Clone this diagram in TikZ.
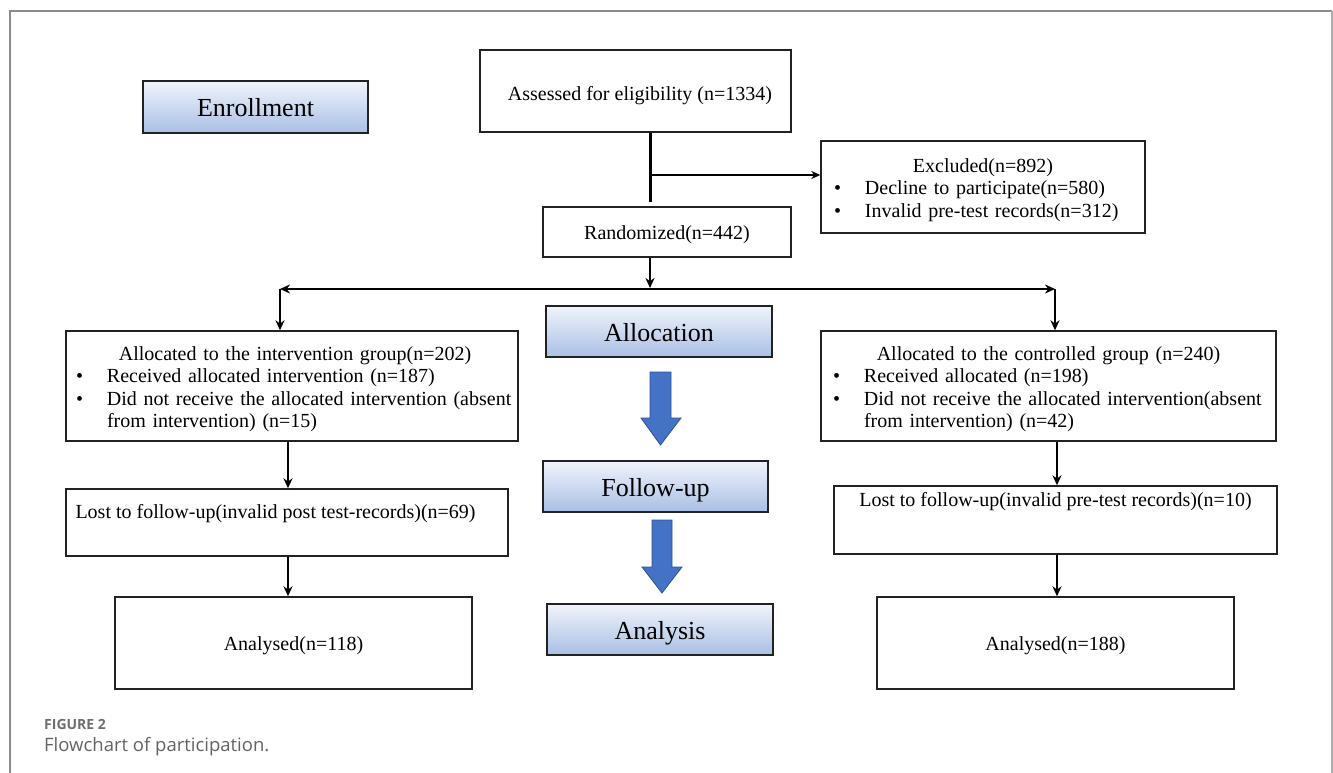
\documentclass[tikz,border=0pt]{standalone}
\usepackage{fontspec}
\setmainfont{Liberation Serif}
\newfontfamily\capfont{Open Sans}
\usetikzlibrary{arrows.meta}
\definecolor{framegray}{HTML}{8C8C8C}
\definecolor{bluetop}{HTML}{F0F4FB}
\definecolor{bluebot}{HTML}{A9BFE4}
\definecolor{arrowblue}{HTML}{4472C4}
\definecolor{arrowedge}{HTML}{2F528F}
\definecolor{boxline}{HTML}{222222}
\definecolor{capgray}{HTML}{6E6E6E}
\newcommand{\bl}[1]{\mbox{\makebox[31pt][l]{\textbullet}#1}}
\newcommand{\cont}[1]{\mbox{\hspace*{31pt}#1}}
\newcommand{\topstrut}{\rule{0pt}{20pt}}
\begin{document}
\begin{tikzpicture}[x=1pt,y=-1pt,
  font=\fontsize{20}{22.5}\selectfont,
  box/.style={draw=boxline, line width=1.4pt, fill=white, inner sep=0pt, align=center},
  oneline/.style={text height=18.5pt, text depth=3pt},
  stage/.style={draw=boxline, line width=1.6pt, top color=bluetop, bottom color=bluebot,
     inner sep=0pt, font=\fontsize{26}{30}\selectfont, text height=20pt, text depth=1pt},
  conn/.style={line width=2pt, draw=black},
  tip/.style={-{Stealth[length=10pt,width=9pt]}},
  bluearrow/.style={fill=arrowblue, draw=arrowedge, line width=0.8pt}
]
\useasboundingbox (0,0) rectangle (1333,773);
% outer frame
\draw[framegray, line width=1.5pt] (10,773) -- (10,11) -- (1332,11);
\draw[framegray!70, line width=1.5pt] (1332,11) -- (1332,773);

% stage labels
\node[stage, minimum width=225pt, minimum height=52pt] (enrol) at (255.5,107) {Enrollment};
\node[stage, minimum width=226pt, minimum height=51pt] (alloc) at (659,331.5) {Allocation};
\node[stage, minimum width=225pt, minimum height=51pt] (follow) at (655.5,486.5) {Follow-up};
\node[stage, minimum width=226pt, minimum height=51pt] (analysis) at (660,629.5) {Analysis};

% blue block arrows
\draw[bluearrow] (650,372) -- (671,372) -- (671,418) -- (681,418) -- (660.5,445) -- (641,418) -- (650,418) -- cycle;
\draw[bluearrow] (652,520) -- (672,520) -- (672,567) -- (682,567) -- (662,593) -- (642,567) -- (652,567) -- cycle;

% main boxes
\node[box, text height=22pt, text depth=2pt, minimum width=311pt, minimum height=82pt] (assess) at (635.5,91) {\hspace*{9pt}Assessed for eligibility (n=1334)};
\node[box, minimum width=324pt, minimum height=92pt, text width=298pt, align=left] (excl) at (983,187)
  {\topstrut\makebox[298pt][c]{Excluded(n=892)}\\
   \bl{Decline to participate(n=580)}\\
   \bl{Invalid pre-test records(n=312)}};
\node[box, oneline, minimum width=248pt, minimum height=50pt] (rand) at (667,232) {Randomized(n=442)};

\node[box, minimum width=452pt, minimum height=110pt, text width=432pt, align=left] (int) at (292,386)
  {\topstrut\makebox[432pt][c]{\hspace*{6pt}Allocated to the intervention group(n=202)}\\
   \bl{Received allocated intervention (n=187)}\\
   \bl{Did not receive the allocated intervention (absent}\\
   \cont{from intervention) (n=15)}};
\node[box, minimum width=455pt, minimum height=110pt, text width=431pt, align=left] (ctrl) at (1048.5,386)
  {\topstrut\makebox[431pt][c]{Allocated to the controlled group (n=240)}\\
   \bl{Received allocated (n=198)}\\
   \bl{Did not receive the allocated intervention(absent}\\
   \cont{from intervention) (n=42)}};

\node[box, minimum width=442pt, minimum height=67pt] (lostL) at (287,522.5) {};
\node[anchor=north west, inner sep=0pt] (lostLt) at ([xshift=10pt,yshift=-16pt]lostL.north west) {Lost to follow-up(invalid post test-records)(n=69)};
\node[box, minimum width=443pt, minimum height=68pt] (lostR) at (1055.5,520) {};
\node[anchor=north, inner sep=0pt] (lostRt) at ([yshift=-7pt]lostR.north) {Lost to follow-up(invalid pre-test records)(n=10)};

\node[box, oneline, minimum width=357pt, minimum height=92pt] (anaL) at (293.5,643) {Analysed(n=118)};
\node[box, oneline, minimum width=357pt, minimum height=92pt] (anaR) at (1055.5,643) {Analysed(n=188)};

% connectors
\coordinate (cx) at (650,0);
\coordinate (j1) at (650,175);
\coordinate (split) at (650,289);
\coordinate (bl) at (280,289);
\coordinate (br) at (1055,289);
\coordinate (lx) at (288,0);
\coordinate (rx) at (1057,0);

\draw[line width=3pt] (assess.south -| cx) -- ([yshift=4pt]rand.north -| cx);
\draw[conn, line width=1.6pt, -{Stealth[length=9pt,width=8pt]}] ([xshift=1.5pt]j1) -- (excl.west |- j1);
\draw[conn, tip] (rand.south -| cx) -- ([yshift=1pt]split);
\draw[conn, {Stealth[length=10pt,width=9pt]}-{Stealth[length=10pt,width=9pt]}] (bl) -- (br);
\draw[conn, tip] (bl) -- (bl |- int.north);
\draw[conn, tip] (br) -- (br |- ctrl.north);
\draw[conn, tip] (int.south -| lx) -- (lostL.north -| lx);
\draw[conn, tip] (lostL.south -| lx) -- (anaL.north -| lx);
\draw[conn, tip] (ctrl.south -| rx) -- (lostR.north -| rx);
\draw[conn, tip] (lostR.south -| rx) -- (anaR.north -| rx);

% caption
\node[anchor=west, inner sep=0pt, text=capgray, font=\capfont\bfseries\fontsize{14}{16}\selectfont] (figlbl) at (44,724) {FIGURE 2};
\node[anchor=west, inner sep=0pt, text=capgray!90!black, font=\capfont\fontsize{18.5}{22}\selectfont] (figcap) at (44,747) {Flowchart of participation.};
\end{tikzpicture}
\end{document}
